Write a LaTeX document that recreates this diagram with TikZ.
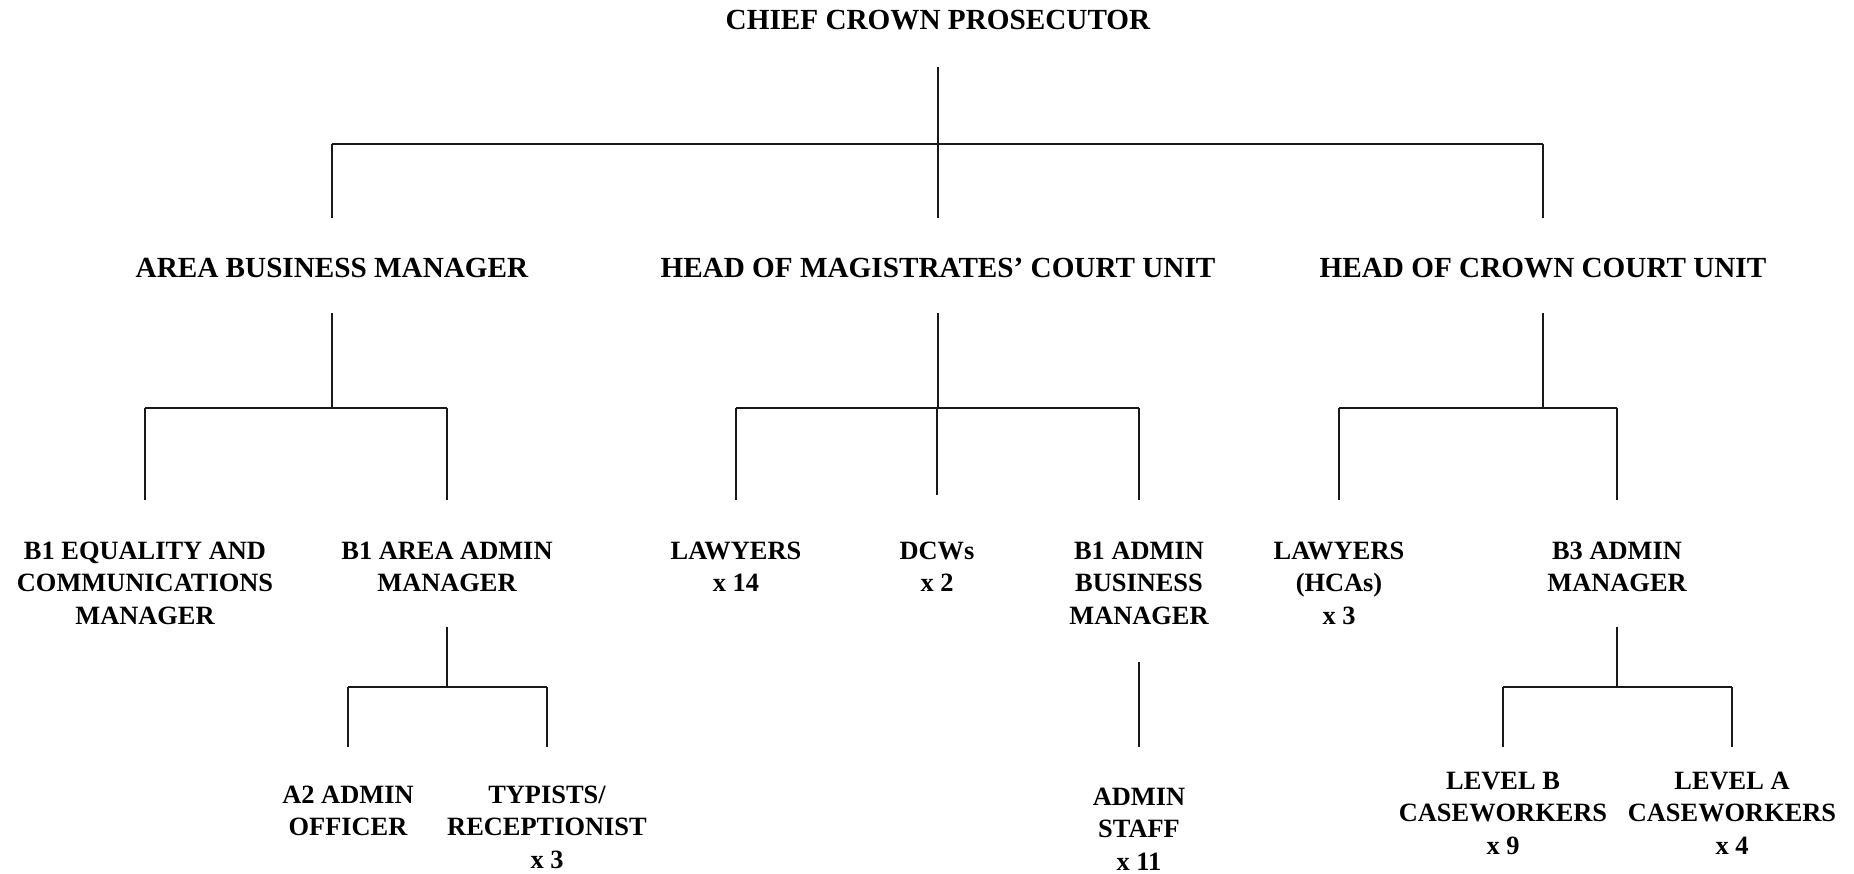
\documentclass[tikz,border=0pt]{standalone}
\usepackage{fontspec}
\setmainfont{Liberation Serif}
\begin{document}
\begin{tikzpicture}[x=1pt,y=-1pt,
  big/.style={font=\fontsize{29.2}{34}\selectfont\bfseries, anchor=base, inner sep=0pt},
  small/.style={font=\fontsize{26.4}{32.5}\selectfont\bfseries, align=center, anchor=base, inner sep=0pt},
  conn/.style={draw=black!90, line width=2.4pt},
  bus/.style={draw=black!90, line width=2.8pt}]
\fill[white] (0,0) rectangle (1854,873);
\useasboundingbox (0,0) rectangle (1854,873);
% level 1 (anchor = baseline of last line)
\node[big] (ccp) at (938,29) {CHIEF CROWN PROSECUTOR};
% level 2
\node[big] (abm) at (332,277) {AREA BUSINESS MANAGER};
\node[big] (hmc) at (938,277) {HEAD OF MAGISTRATES’ COURT UNIT};
\node[big] (hcc) at (1543,277) {HEAD OF CROWN COURT UNIT};
% level 3
\node[small] (eq)  at (145,624) {B1 EQUALITY AND\\COMMUNICATIONS\\MANAGER};
\node[small] (aam) at (447,591.5) {B1 AREA ADMIN\\MANAGER};
\node[small] (law) at (736,591.5) {LAWYERS\\x 14};
\node[small] (dcw) at (937,591.5) {DCWs\\x 2};
\node[small] (bab) at (1139,624) {B1 ADMIN\\BUSINESS\\MANAGER};
\node[small] (lhc) at (1339,624) {LAWYERS\\(HCAs)\\x 3};
\node[small] (b3)  at (1617,591.5) {B3 ADMIN\\MANAGER};
% level 4
\node[small] (a2)  at (348,835.5) {A2 ADMIN\\OFFICER};
\node[small] (typ) at (547,868) {TYPISTS/\\RECEPTIONIST\\x 3};
\node[small] (ast) at (1139,870) {ADMIN\\STAFF\\x 11};
\node[small] (lvb) at (1503,854) {LEVEL B\\CASEWORKERS\\x 9};
\node[small] (lva) at (1732,854) {LEVEL A\\CASEWORKERS\\x 4};
% helper levels
\coordinate (yc1s) at (0,67);
\coordinate (yc1j) at (0,144);
\coordinate (yl2t) at (0,218);
\coordinate (yl2s) at (0,313);
\coordinate (yl2j) at (0,408);
\coordinate (yl3t) at (0,500);
\coordinate (ydcw) at (0,495);
\coordinate (yl3s) at (0,627);
\coordinate (yl3j) at (0,687);
\coordinate (yl4t) at (0,747);
\coordinate (ybab) at (0,662);
% fork from chief
\draw[conn] (ccp |- yc1s) -- (ccp |- yc1j);
\draw[bus] (abm |- yc1j) -- (hcc |- yc1j);
\foreach \n in {abm,hmc,hcc} \draw[conn] (\n |- yc1j) -- (\n |- yl2t);
% fork from area business manager
\draw[conn] (abm |- yl2s) -- (abm |- yl2j);
\draw[bus] (eq |- yl2j) -- (aam |- yl2j);
\foreach \n in {eq,aam} \draw[conn] (\n |- yl2j) -- (\n |- yl3t);
% fork from magistrates
\draw[conn] (hmc |- yl2s) -- (hmc |- yl2j);
\draw[bus] (law |- yl2j) -- (bab |- yl2j);
\foreach \n in {law,bab} \draw[conn] (\n |- yl2j) -- (\n |- yl3t);
\draw[conn] (dcw |- yl2j) -- (dcw |- ydcw);
% fork from crown court
\draw[conn] (hcc |- yl2s) -- (hcc |- yl2j);
\draw[bus] (lhc |- yl2j) -- (b3 |- yl2j);
\foreach \n in {lhc,b3} \draw[conn] (\n |- yl2j) -- (\n |- yl3t);
% fork from area admin manager
\draw[conn] (aam |- yl3s) -- (aam |- yl3j);
\draw[bus] (a2 |- yl3j) -- (typ |- yl3j);
\foreach \n in {a2,typ} \draw[conn] (\n |- yl3j) -- (\n |- yl4t);
% admin business manager to admin staff
\draw[conn] (bab |- ybab) -- (ast |- yl4t);
% fork from B3 admin manager
\draw[conn] (b3 |- yl3s) -- (b3 |- yl3j);
\draw[bus] (lvb |- yl3j) -- (lva |- yl3j);
\foreach \n in {lvb,lva} \draw[conn] (\n |- yl3j) -- (\n |- yl4t);
\end{tikzpicture}
\end{document}
